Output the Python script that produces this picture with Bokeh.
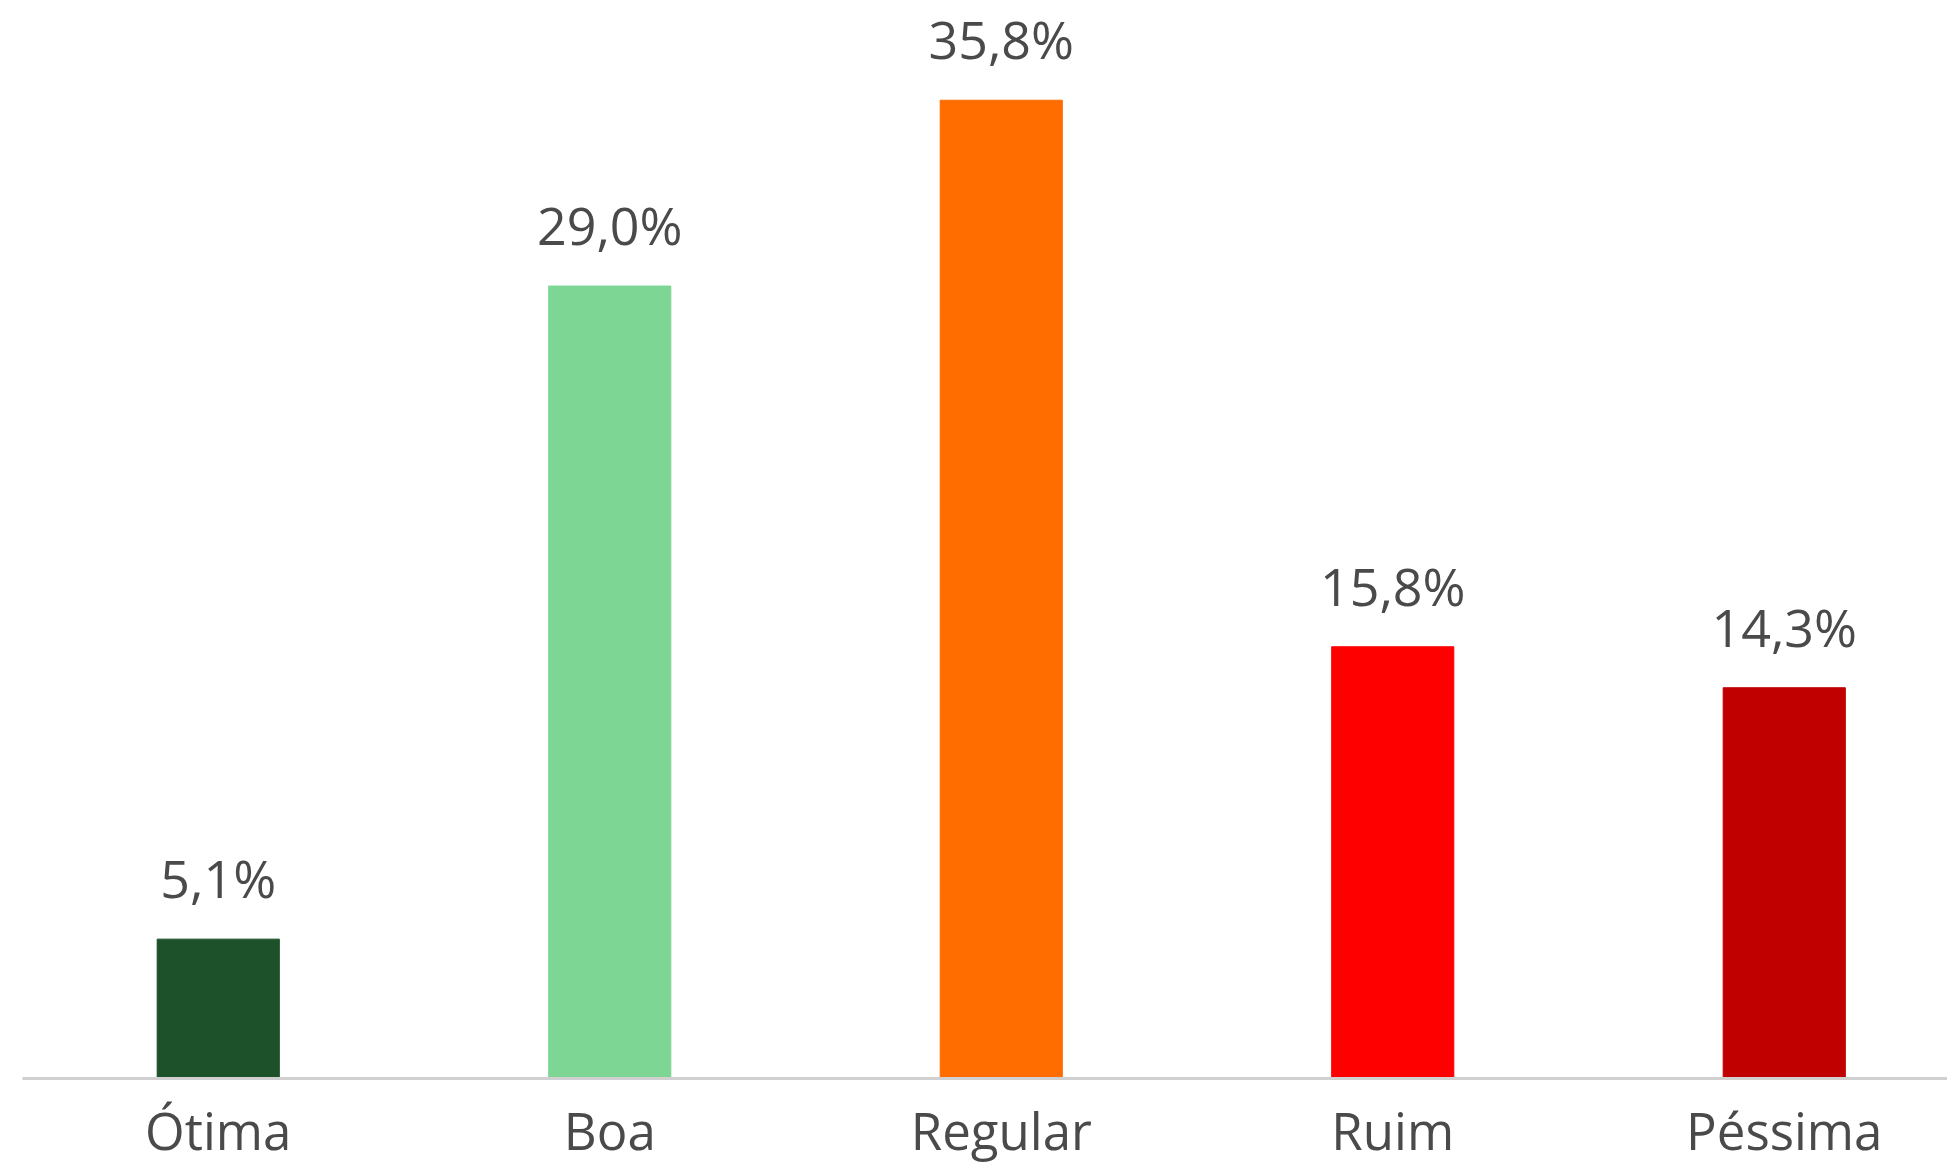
from bokeh.plotting import figure
from bokeh.models import ColumnDataSource, LabelSet, FixedTicker, Range1d
from bokeh.core.properties import value
from bokeh.embed import file_html
from bokeh.resources import INLINE

categories = ["Ótima", "Boa", "Regular", "Ruim", "Péssima"]
values = [5.1, 29.0, 35.8, 15.8, 14.3]
value_labels = ["5,1%", "29,0%", "35,8%", "15,8%", "14,3%"]
colors = ["#1c5129", "#7dd694", "#ff6d00", "#ff0000", "#c00000"]

positions = list(range(len(categories)))

source = ColumnDataSource(dict(x=positions, top=values, label=value_labels, color=colors))

FONT = "Open Sans"
TEXT_COLOR = "#4a4a4a"

p = figure(
    frame_width=1925, frame_height=1078,
    x_range=Range1d(-0.5, 4.417), y_range=Range1d(0, 39.45),
    output_backend="svg", toolbar_location=None,
    min_border_left=22, min_border_right=0, min_border_top=0, min_border_bottom=0,
)

p.vbar(x="x", top="top", bottom=0, width=0.312, color="color", source=source)

labels = LabelSet(x="x", y="top", text="label", source=source,
                  text_align="center", text_baseline="alphabetic", y_offset=41,
                  text_font=value(FONT), text_font_size="52px", text_color=TEXT_COLOR)
p.add_layout(labels)

p.yaxis.visible = False
p.xgrid.visible = False
p.ygrid.visible = False
p.outline_line_color = None

ax = p.xaxis[0]
ax.ticker = FixedTicker(ticks=positions)
ax.major_label_overrides = {i: c for i, c in zip(positions, categories)}
ax.major_tick_line_color = None
ax.minor_tick_line_color = None
ax.axis_line_color = "#d0d0d0"
ax.axis_line_width = 3
ax.major_label_text_font = FONT
ax.major_label_text_font_size = "51px"
ax.major_label_text_color = TEXT_COLOR
ax.major_label_standoff = 10

open("out.html", "w").write(file_html(p, INLINE))
